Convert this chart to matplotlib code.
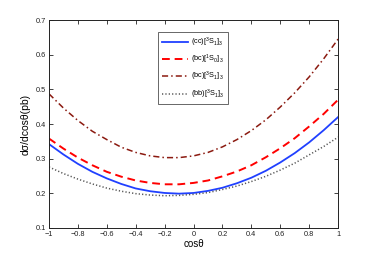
import matplotlib
matplotlib.use("Agg")
import matplotlib.pyplot as plt

plt.rcParams['font.family'] = ['Liberation Sans', 'DejaVu Sans']
plt.rcParams['mathtext.fontset'] = 'custom'
plt.rcParams['mathtext.rm'] = 'Liberation Sans'
plt.rcParams['mathtext.it'] = 'Liberation Sans'
plt.rcParams['mathtext.default'] = 'regular'

cos_theta = [-1.0, -0.9, -0.8, -0.7, -0.6, -0.5, -0.4, -0.3, -0.2, -0.1, 0.0,
             0.1, 0.2, 0.3, 0.4, 0.5, 0.6, 0.7, 0.8, 0.9, 1.0]
cc_3S1 = [0.342, 0.312, 0.285, 0.262, 0.243, 0.227, 0.214, 0.206, 0.201, 0.199, 0.201,
          0.207, 0.216, 0.229, 0.245, 0.265, 0.289, 0.316, 0.347, 0.382, 0.420]
bc_1S0 = [0.358, 0.329, 0.303, 0.281, 0.262, 0.248, 0.237, 0.230, 0.226, 0.226, 0.230,
          0.237, 0.249, 0.263, 0.281, 0.304, 0.330, 0.359, 0.393, 0.429, 0.470]
bc_3S1 = [0.487, 0.446, 0.410, 0.379, 0.355, 0.333, 0.318, 0.308, 0.303, 0.303, 0.308,
          0.318, 0.334, 0.355, 0.381, 0.412, 0.449, 0.490, 0.536, 0.588, 0.645]
bb_3S1 = [0.276, 0.257, 0.241, 0.227, 0.215, 0.206, 0.199, 0.195, 0.193, 0.194, 0.197,
          0.202, 0.211, 0.221, 0.234, 0.249, 0.267, 0.287, 0.311, 0.335, 0.362]

labels = [r'$(cc)[^3S_1]_3$', r'$(bc)[^1S_0]_3$', r'$(bc)[^3S_1]_3$', r'$(bb)[^3S_1]_3$']
xticks = [-1, -0.8, -0.6, -0.4, -0.2, 0, 0.2, 0.4, 0.6, 0.8, 1]
xticklabels = ['\u22121', '\u22120.8', '\u22120.6', '\u22120.4', '\u22120.2', '0',
               '0.2', '0.4', '0.6', '0.8', '1']
yticks = [0.1, 0.2, 0.3, 0.4, 0.5, 0.6, 0.7]

fig = plt.figure(figsize=(3.74, 2.57), dpi=100)
ax = fig.add_axes([0.131, 0.113, 0.773, 0.809])

ax.plot(cos_theta, cc_3S1, color='#2040ff', lw=1.3, ls='-', label=labels[0])
ax.plot(cos_theta, bc_1S0, color='#ff0000', lw=1.4, ls=(0, (4, 2.5)), label=labels[1])
ax.plot(cos_theta, bc_3S1, color='#8b1a10', lw=1.1, ls=(0, (4, 2, 1, 2)), label=labels[2])
ax.plot(cos_theta, bb_3S1, color='#555555', lw=1.1, ls=(0, (0.8, 1.4)), label=labels[3])

ax.set_xlim(-1, 1)
ax.set_ylim(0.1, 0.7)
ax.set_xticks(xticks)
ax.set_xticklabels(xticklabels)
ax.set_yticks(yticks)
ax.set_yticklabels([f'{v:.1f}' for v in yticks])
ax.tick_params(direction='in', top=True, right=True, length=3, width=0.6,
               labelsize=5.3, pad=2, colors='#222222')
for s in ax.spines.values():
    s.set_linewidth(0.7)
    s.set_color('#222222')

ax.set_xlabel('cos\u03b8', fontsize=7, labelpad=1)
ax.set_ylabel('d\u03c3/dcos\u03b8(pb)', fontsize=7.5, labelpad=4)

leg = ax.legend(loc='upper left', bbox_to_anchor=(0.377, 0.944), borderaxespad=0,
                fontsize=5.3, frameon=True, fancybox=False, edgecolor='#222222',
                handlelength=3.6, handletextpad=0.4, labelspacing=0.55,
                borderpad=0.5)
leg.get_frame().set_linewidth(0.6)

fig.savefig('out.png', dpi=100)
